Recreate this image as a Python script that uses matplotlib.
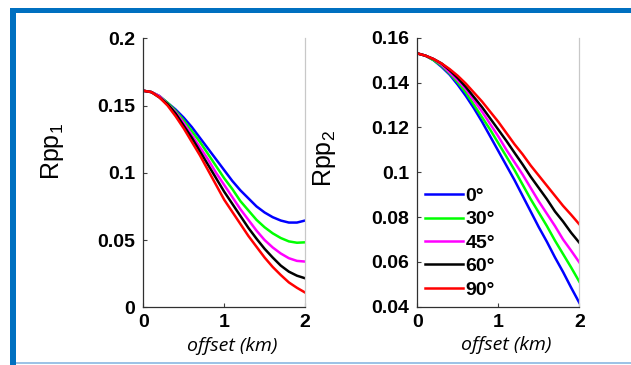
import matplotlib
matplotlib.use("Agg")
import matplotlib.pyplot as plt
from matplotlib.patches import Rectangle

# ── Data ───────────────────────────────────────────────────────────────
offset_km = [0.0, 0.1, 0.2, 0.3, 0.4, 0.5, 0.6, 0.7, 0.8, 0.9, 1.0,
             1.1, 1.2, 1.3, 1.4, 1.5, 1.6, 1.7, 1.8, 1.9, 2.0]
angles = ["0°", "30°", "45°", "60°", "90°"]
colors = ["#0000ff", "#00ff00", "#ff00ff", "#000000", "#ff0000"]

rpp1_0 = [0.161, 0.160, 0.157, 0.152, 0.147, 0.141, 0.134, 0.126, 0.118, 0.110, 0.102,
          0.094, 0.087, 0.081, 0.075, 0.0705, 0.067, 0.0645, 0.063, 0.063, 0.0645]
rpp1_30 = [0.161, 0.160, 0.157, 0.152, 0.146, 0.139, 0.131, 0.123, 0.114, 0.105, 0.096,
           0.088, 0.079, 0.072, 0.065, 0.0595, 0.055, 0.0515, 0.049, 0.048, 0.0483]
rpp1_45 = [0.161, 0.160, 0.157, 0.151, 0.145, 0.137, 0.128, 0.119, 0.110, 0.100, 0.091,
           0.082, 0.073, 0.065, 0.057, 0.050, 0.0445, 0.040, 0.0365, 0.0345, 0.034]
rpp1_60 = [0.161, 0.160, 0.156, 0.151, 0.144, 0.135, 0.126, 0.116, 0.106, 0.096, 0.086,
           0.077, 0.068, 0.059, 0.051, 0.0435, 0.037, 0.031, 0.0265, 0.0235, 0.0216]
rpp1_90 = [0.161, 0.160, 0.156, 0.150, 0.142, 0.133, 0.123, 0.113, 0.102, 0.091, 0.080,
           0.071, 0.062, 0.053, 0.045, 0.037, 0.030, 0.024, 0.0185, 0.0145, 0.011]

rpp2_0 = [0.153, 0.152, 0.150, 0.147, 0.1435, 0.139, 0.134, 0.1285, 0.1225, 0.116, 0.1095,
          0.103, 0.0965, 0.0895, 0.0825, 0.0755, 0.069, 0.062, 0.0555, 0.0485, 0.0418]
rpp2_30 = [0.153, 0.152, 0.150, 0.1475, 0.144, 0.140, 0.1355, 0.130, 0.1245, 0.119, 0.113,
           0.107, 0.101, 0.0945, 0.088, 0.082, 0.076, 0.0695, 0.0635, 0.0575, 0.0512]
rpp2_45 = [0.153, 0.152, 0.1505, 0.148, 0.1445, 0.141, 0.137, 0.132, 0.127, 0.1215, 0.116,
           0.110, 0.1045, 0.099, 0.093, 0.087, 0.0815, 0.076, 0.070, 0.065, 0.0598]
rpp2_60 = [0.153, 0.152, 0.1505, 0.1485, 0.1455, 0.142, 0.138, 0.1335, 0.129, 0.124, 0.119,
           0.114, 0.1087, 0.1035, 0.098, 0.093, 0.088, 0.0825, 0.078, 0.073, 0.0686]
rpp2_90 = [0.153, 0.152, 0.1505, 0.1485, 0.146, 0.143, 0.1395, 0.1355, 0.1315, 0.127, 0.1225,
           0.1175, 0.1125, 0.108, 0.103, 0.0985, 0.094, 0.0895, 0.085, 0.081, 0.0768]

yticks1 = [0, 0.05, 0.1, 0.15, 0.2]
yticklabels1 = ["0", "0.05", "0.1", "0.15", "0.2"]
yticks2 = [0.04, 0.06, 0.08, 0.1, 0.12, 0.14, 0.16]
yticklabels2 = ["0.04", "0.06", "0.08", "0.1", "0.12", "0.14", "0.16"]
xticks = [0, 1, 2]

# ── Figure ─────────────────────────────────────────────────────────────
plt.rcParams["font.family"] = ["Liberation Sans", "DejaVu Sans"]
plt.rcParams["mathtext.fontset"] = "custom"
plt.rcParams["mathtext.rm"] = "Liberation Sans"

fig = plt.figure(figsize=(6.31, 3.65), dpi=100)
ax1 = fig.add_axes([0.2271, 0.1581, 0.2563, 0.737])
ax2 = fig.add_axes([0.6613, 0.1597, 0.2567, 0.737])


def style_axes(ax, yticks, yticklabels, ylim, label, label_pos):
    ax.set_xlim(0, 2)
    ax.set_ylim(*ylim)
    ax.set_xticks(xticks)
    ax.set_xticklabels([str(t) for t in xticks], fontweight="bold", fontsize=14)
    ax.set_yticks(yticks)
    ax.set_yticklabels(yticklabels, fontweight="bold", fontsize=14)
    ax.tick_params(direction="in", length=3, width=0.8, color="#404040")
    ax.tick_params(axis="x", pad=5)
    ax.tick_params(axis="y", pad=6)
    for side in ("left", "bottom"):
        ax.spines[side].set_color("#303030")
        ax.spines[side].set_linewidth(0.9)
    ax.spines["right"].set_color("#c8c8c8")
    ax.spines["right"].set_linewidth(0.9)
    ax.spines["top"].set_visible(False)
    ax.set_ylabel(label, fontsize=18)
    ax.yaxis.set_label_coords(*label_pos)
    ax.set_xlabel("offset (km)", family=["Open Sans", "DejaVu Sans"],
                  style="italic", fontsize=14)
    ax.xaxis.set_label_coords(0.55, -0.11)


left_series = [rpp1_0, rpp1_30, rpp1_45, rpp1_60, rpp1_90]
right_series = [rpp2_0, rpp2_30, rpp2_45, rpp2_60, rpp2_90]

for vals, c, lab in zip(left_series, colors, angles):
    ax1.plot(offset_km, vals, color=c, lw=1.8, label=lab)
for vals, c, lab in zip(right_series, colors, angles):
    ax2.plot(offset_km, vals, color=c, lw=1.8, label=lab)

style_axes(ax1, yticks1, yticklabels1, (0, 0.2), r"Rpp$_\mathregular{1}$", (-0.48, 0.58))
style_axes(ax2, yticks2, yticklabels2, (0.04, 0.16), r"Rpp$_\mathregular{2}$", (-0.49, 0.55))

leg = ax2.legend(loc="upper left", bbox_to_anchor=(-0.015, 0.48), frameon=False,
                 prop={"weight": "bold", "size": 14}, handlelength=2.0,
                 handletextpad=0.1, labelspacing=0.3, borderaxespad=0.1)

# ── Slide frame ───────────────────────────────────────────────────────
W, H = 631.0, 365.0
frame_blue = "#0070c0"
fig.add_artist(Rectangle((10 / W, 0), 6 / W, 1 - 8 / H, transform=fig.transFigure,
                         color=frame_blue, lw=0))
fig.add_artist(Rectangle((10 / W, 1 - 13 / H), 1 - 10 / W, 5 / H, transform=fig.transFigure,
                         color=frame_blue, lw=0))
fig.add_artist(Rectangle((16 / W, 1 / H), 1 - 16 / W, 2 / H, transform=fig.transFigure,
                         color="#9dc3e6", lw=0))

fig.savefig("out.png", dpi=100)
